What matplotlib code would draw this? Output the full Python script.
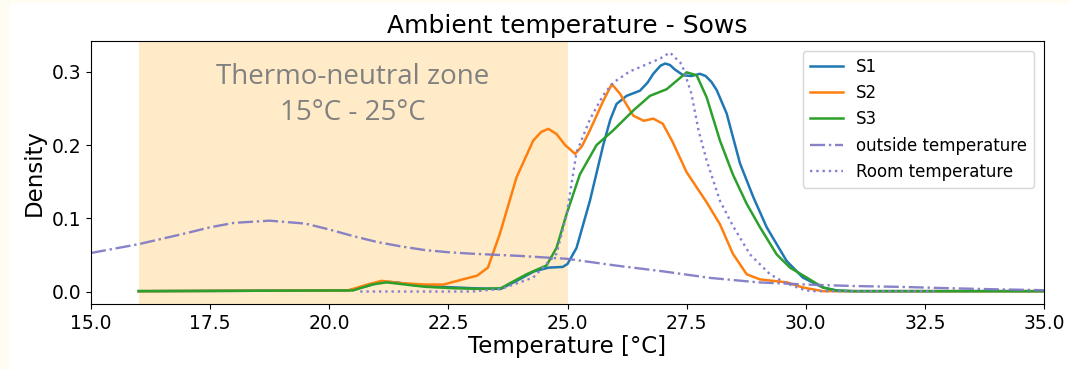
import matplotlib
matplotlib.use("Agg")
import matplotlib.pyplot as plt
from matplotlib.patches import Rectangle

# density curves (temperature in degC, density)
s1_t = [16.0, 20.4, 20.8, 21.1, 21.4, 21.8, 22.3, 23.0, 23.6, 23.93, 24.3, 24.6, 24.9, 25.0, 25.19, 25.47,
        25.75, 25.9, 26.03, 26.24, 26.52, 26.68, 26.8, 26.95, 27.05, 27.15, 27.25, 27.43, 27.6, 27.78, 27.9,
        28.02, 28.13, 28.34, 28.62, 28.9, 29.18, 29.6, 29.94, 30.36, 30.65, 31.0, 35.0]
s1_d = [0.001, 0.002, 0.008, 0.014, 0.013, 0.009, 0.007, 0.005, 0.004, 0.015, 0.028, 0.033, 0.034, 0.038, 0.06, 0.124,
        0.2, 0.235, 0.256, 0.267, 0.274, 0.285, 0.297, 0.308, 0.311, 0.309, 0.303, 0.295, 0.294, 0.297, 0.294,
        0.286, 0.275, 0.243, 0.175, 0.129, 0.088, 0.042, 0.0195, 0.006, 0.002, 0.001, 0.001]

s2_t = [16.0, 20.4, 20.8, 21.1, 21.5, 22.0, 22.4, 22.8, 23.1, 23.33, 23.58, 23.93, 24.28, 24.45, 24.6, 24.77,
        24.95, 25.16, 25.3, 25.47, 25.75, 25.93, 26.1, 26.38, 26.6, 26.8, 27.0, 27.2, 27.5, 27.92, 28.2,
        28.47, 28.76, 29.04, 29.6, 29.94, 30.36, 31.0, 35.0]
s2_d = [0.001, 0.002, 0.01, 0.015, 0.012, 0.01, 0.01, 0.017, 0.022, 0.033, 0.079, 0.156, 0.206, 0.218, 0.222, 0.215,
        0.2, 0.188, 0.198, 0.22, 0.26, 0.283, 0.27, 0.24, 0.233, 0.236, 0.229, 0.205, 0.163, 0.122, 0.092,
        0.052, 0.024, 0.017, 0.013, 0.006, 0.001, 0.001, 0.001]

s3_t = [16.0, 20.5, 20.9, 21.2, 21.6, 22.0, 22.6, 23.2, 23.6, 24.14, 24.56, 24.77, 24.98, 25.26, 25.61, 25.96,
        26.38, 26.73, 27.08, 27.3, 27.5, 27.71, 27.92, 28.2, 28.47, 28.76, 29.04, 29.39, 29.67, 30.02, 30.36,
        30.65, 31.0, 35.0]
s3_d = [0.001, 0.002, 0.01, 0.013, 0.01, 0.007, 0.005, 0.004, 0.005, 0.024, 0.036, 0.06, 0.106, 0.16, 0.2, 0.22,
        0.247, 0.267, 0.276, 0.288, 0.299, 0.295, 0.265, 0.206, 0.16, 0.12, 0.088, 0.051, 0.033, 0.0195, 0.006,
        0.0014, 0.001, 0.001]

outside_t = [15.0, 16.0, 17.0, 17.5, 18.0, 18.75, 19.5, 20.0, 20.5, 21.0, 21.5, 22.0, 22.5, 23.0, 24.0, 25.0,
             26.0, 27.0, 28.0, 29.0, 30.0, 31.0, 32.0, 33.0, 34.0, 35.0]
outside_d = [0.053, 0.065, 0.080, 0.088, 0.094, 0.097, 0.093, 0.085, 0.076, 0.068, 0.062, 0.057, 0.054, 0.052,
             0.049, 0.045, 0.036, 0.028, 0.019, 0.013, 0.010, 0.008, 0.0068, 0.005, 0.0035, 0.0023]

room_t = [20.65, 23.0, 23.6, 24.28, 24.77, 24.98, 25.19, 25.47, 25.75, 25.96, 26.3, 26.7, 26.95, 27.15, 27.4,
          27.6, 27.75, 27.92, 28.2, 28.47, 28.83, 29.25, 29.55, 29.9, 30.1, 32.7]
room_d = [0.0005, 0.0005, 0.004, 0.0195, 0.052, 0.105, 0.19, 0.235, 0.268, 0.285, 0.3, 0.311, 0.318, 0.326, 0.31,
          0.27, 0.22, 0.179, 0.124, 0.09, 0.051, 0.024, 0.013, 0.004, 0.001, 0.001]

zone = (16, 25)

fig = plt.figure(figsize=(10.69, 3.69), dpi=100)
fig.patches.append(Rectangle((0, 0), 8 / 1069, 1, transform=fig.transFigure, color="#fffcf1", zorder=-1))
fig.patches.append(Rectangle((0, 1 - 2 / 369), 1, 2 / 369, transform=fig.transFigure, color="#fffcf1", zorder=-1))
ax = fig.add_axes([91 / 1069, 65 / 369, 953 / 1069, 263 / 369])

ax.axvspan(zone[0], zone[1], color="orange", alpha=0.22, lw=0)
ax.text(20.5, 0.268, "Thermo-neutral zone\n15°C - 25°C", ha="center", va="center",
        fontsize=20, color="grey", family="Open Sans", linespacing=1.4)

ax.plot(s1_t, s1_d, color="#1f77b4", lw=1.8, label="S1")
ax.plot(s2_t, s2_d, color="#ff7f0e", lw=1.8, label="S2")
ax.plot(s3_t, s3_d, color="#2ca02c", lw=1.8, label="S3")
ax.plot(outside_t, outside_d, color="#7b76c4", lw=1.7, ls="-.", alpha=0.9, label="outside temperature")
ax.plot(room_t, room_d, color="#8580d2", lw=1.7, ls=":", label="Room temperature")

ax.set_xlim(15, 35)
ax.set_ylim(-0.0165, 0.3417)
ax.set_xticks([15, 17.5, 20, 22.5, 25, 27.5, 30, 32.5, 35])
ax.set_yticks([0, 0.1, 0.2, 0.3])
ax.tick_params(labelsize=13.5)
ax.set_xlabel("Temperature [°C]", fontsize=16.5, labelpad=2)
ax.set_ylabel("Density", fontsize=16.5)
ax.set_title("Ambient temperature - Sows", fontsize=18, pad=6)
ax.legend(loc="upper right", fontsize=12, borderaxespad=0.6)

fig.savefig("out.png", dpi=100)
